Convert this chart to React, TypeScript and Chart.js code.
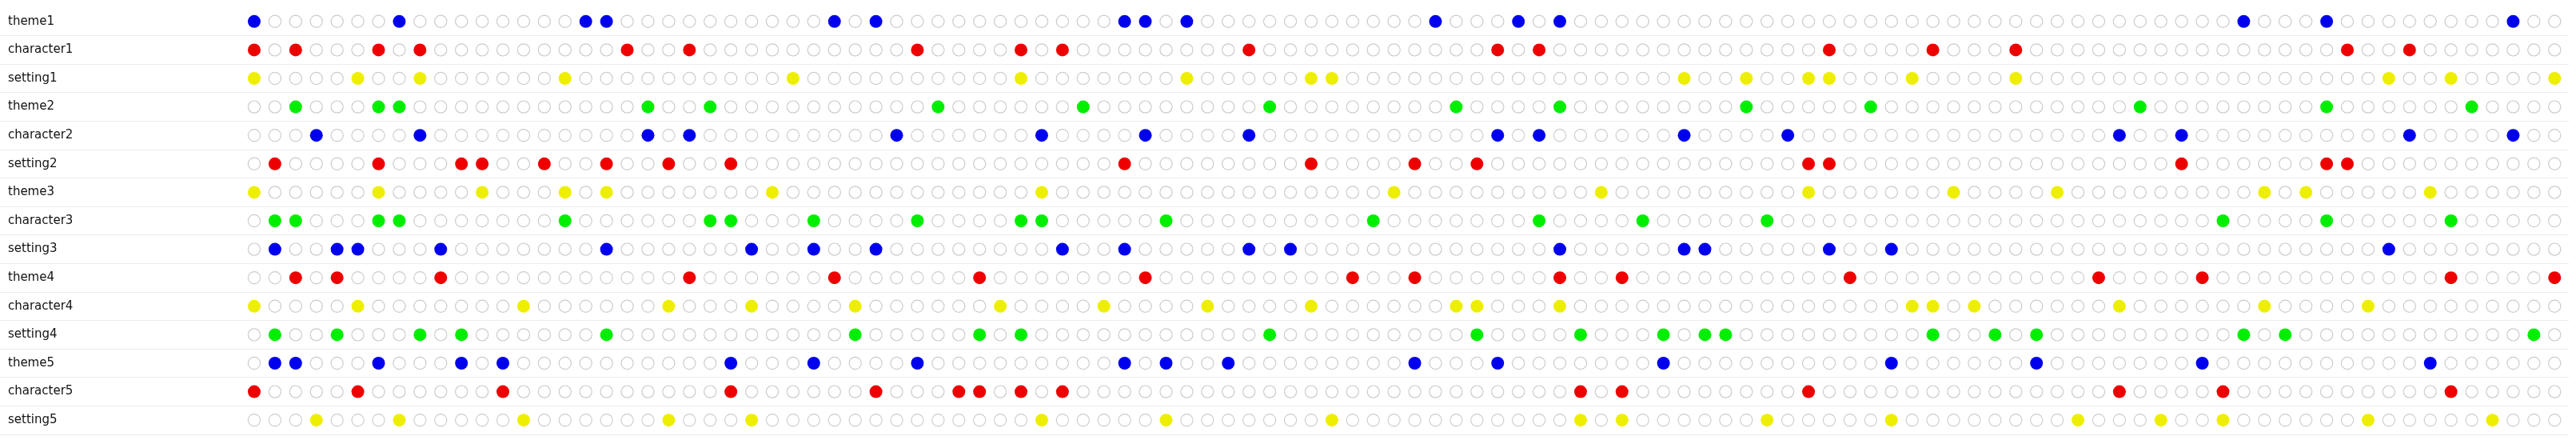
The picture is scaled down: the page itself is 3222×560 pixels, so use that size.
import React, { useEffect, useRef } from 'react';
import { Chart, registerables } from 'chart.js';

Chart.register(...registerables);

// Row labels (top to bottom)
const rowLabels = [
  'theme1', 'character1', 'setting1',
  'theme2', 'character2', 'setting2',
  'theme3', 'character3', 'setting3',
  'theme4', 'character4', 'setting4',
  'theme5', 'character5', 'setting5',
];

// Fill colour for each row
const rowColors = [
  '#0000EE', '#EE0000', '#EEEE00',
  '#00EE00', '#0000EE', '#EE0000',
  '#EEEE00', '#00EE00', '#0000EE',
  '#EE0000', '#EEEE00', '#00EE00',
  '#0000EE', '#EE0000', '#EEEE00',
];

// Number of columns (positions) in the matrix
const columnCount = 112;

// Filled column indices for each row
const theme1 = [0, 7, 16, 17, 28, 30, 42, 43, 45, 57, 61, 63, 96, 100, 109];
const character1 = [0, 2, 6, 8, 18, 21, 32, 37, 39, 48, 60, 62, 76, 81, 85, 101, 104];
const setting1 = [0, 5, 8, 15, 26, 37, 45, 51, 52, 69, 72, 75, 76, 80, 85, 103, 106, 111];
const theme2 = [2, 6, 7, 19, 22, 33, 40, 49, 58, 63, 72, 78, 91, 100, 107];
const character2 = [3, 8, 19, 21, 31, 38, 43, 48, 60, 62, 69, 74, 90, 93, 104, 109];
const setting2 = [1, 6, 10, 11, 14, 17, 20, 23, 42, 51, 56, 59, 75, 76, 93, 100, 101];
const theme3 = [0, 6, 11, 15, 17, 25, 38, 55, 65, 75, 82, 87, 97, 99, 105];
const character3 = [1, 2, 6, 7, 15, 22, 23, 27, 32, 37, 38, 44, 54, 62, 67, 73, 95, 100, 106];
const setting3 = [1, 4, 5, 9, 17, 24, 27, 30, 39, 42, 48, 50, 63, 69, 70, 76, 79, 103];
const theme4 = [2, 4, 9, 21, 28, 35, 43, 53, 56, 63, 66, 77, 89, 94, 106, 111];
const character4 = [0, 5, 13, 20, 24, 29, 36, 41, 46, 51, 58, 59, 63, 80, 81, 83, 90, 97, 102];
const setting4 = [1, 4, 8, 10, 17, 29, 35, 37, 49, 59, 64, 68, 70, 71, 81, 84, 86, 96, 98, 110];
const theme5 = [1, 2, 6, 10, 12, 23, 27, 32, 42, 44, 47, 56, 60, 68, 79, 86, 94, 105];
const character5 = [0, 5, 12, 23, 30, 34, 35, 37, 39, 64, 66, 75, 90, 95, 106];
const setting5 = [3, 7, 13, 20, 24, 38, 44, 52, 64, 66, 73, 79, 88, 92, 95, 102, 108];

const filledColumns = [
  theme1, character1, setting1,
  theme2, character2, setting2,
  theme3, character3, setting3,
  theme4, character4, setting4,
  theme5, character5, setting5,
];

const WIDTH = 3222;
const HEIGHT = 560;

export default function App() {
  const canvasRef = useRef<HTMLCanvasElement | null>(null);

  useEffect(() => {
    document.body.style.margin = '0';
    const canvas = canvasRef.current;
    if (!canvas) return;

    const columns = Array.from({ length: columnCount }, (_, i) => i);
    const datasets = rowLabels.map((label, r) => {
      const filled = new Set(filledColumns[r]);
      return {
        label,
        data: columns.map((c) => ({ x: c, y: label })),
        pointStyle: 'circle',
        pointRadius: columns.map((c) => (filled.has(c) ? 8 : 7.6)),
        pointBackgroundColor: columns.map((c) => (filled.has(c) ? rowColors[r] : 'rgba(255,255,255,0)')),
        pointBorderColor: columns.map((c) => (filled.has(c) ? rowColors[r] : '#cccccc')),
        pointBorderWidth: columns.map((c) => (filled.has(c) ? 0 : 1.2)),
        showLine: false,
      };
    });

    const chart = new Chart(canvas, {
      type: 'scatter',
      data: { datasets } as any,
      options: {
        responsive: false,
        animation: false,
        devicePixelRatio: 1,
        events: [],
        layout: { padding: { left: 10, right: 0, top: 0, bottom: 17 } },
        plugins: {
          legend: { display: false },
          tooltip: { enabled: false },
        },
        scales: {
          x: {
            type: 'linear',
            display: false,
            min: -0.5,
            max: columnCount - 0.5 + 5 / 26,
          },
          y: {
            type: 'category',
            labels: rowLabels,
            offset: true,
            border: { display: false },
            grid: {
              offset: true,
              drawTicks: true,
              tickLength: 305,
              lineWidth: 1,
              color: (ctx: any) => (ctx.index === 0 ? 'rgba(0,0,0,0)' : '#ececec'),
            },
            ticks: {
              crossAlign: 'far',
              padding: 0,
              autoSkip: false,
              color: '#111111',
              font: { family: 'DejaVu Sans', size: 15 },
            },
            afterFit: (scale: any) => {
              scale.width = 295;
            },
          },
        },
      } as any,
    });

    return () => {
      chart.destroy();
    };
  }, []);

  return (
    <div style={{ width: WIDTH, height: HEIGHT }}>
      <canvas ref={canvasRef} width={WIDTH} height={HEIGHT} style={{ display: 'block' }} />
    </div>
  );
}
